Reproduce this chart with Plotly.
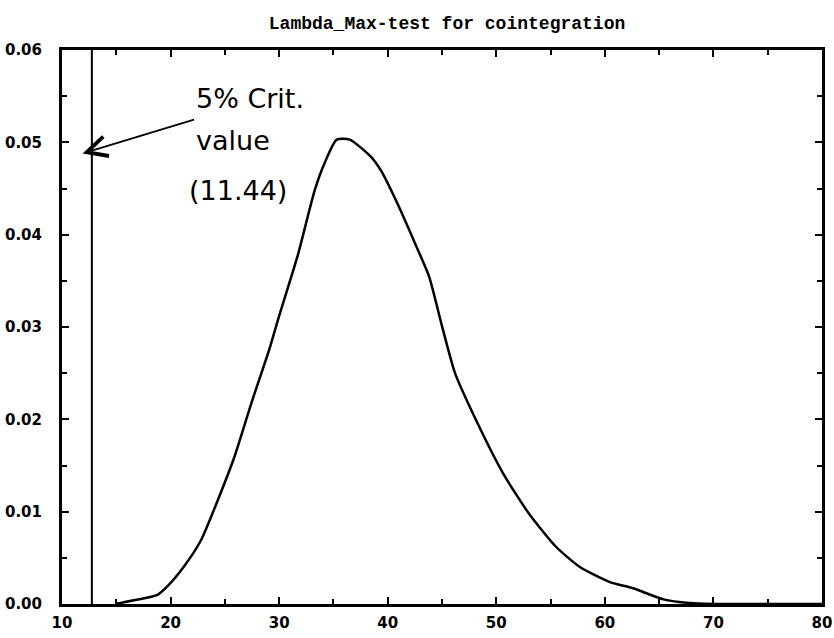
import plotly.graph_objects as go

# density curve
x_vals = [14.9, 16.6, 18.8, 19.7, 21.2, 22.8, 24.3, 25.9, 27.4, 29.1, 30.0, 31.7,
          33.3, 34.2, 35.3, 36.5, 38.4, 39.4, 41.0, 42.5, 43.8, 45.0, 46.2, 48.1,
          50.6, 53.0, 55.5, 57.7, 60.4, 62.6, 65.4, 67.8, 70.0, 75.0, 80.0]
density = [0.0000, 0.0004, 0.0010, 0.0019, 0.0040, 0.0069, 0.0111, 0.0160, 0.0216,
           0.0276, 0.0312, 0.0377, 0.0449, 0.0478, 0.0503, 0.0503, 0.0485, 0.0469,
           0.0431, 0.0391, 0.0355, 0.0301, 0.0250, 0.0200, 0.0142, 0.0098, 0.0062,
           0.0040, 0.0024, 0.0017, 0.0005, 0.0001, 0.0000, 0.0000, 0.0000]

crit_x = 12.75          # where the critical-value line is drawn
note_lines = ["5% Crit.", "value", "(11.44)"]

x_ticks = [10, 20, 30, 40, 50, 60, 70, 80]
y_ticks = [0.00, 0.01, 0.02, 0.03, 0.04, 0.05, 0.06]

fig = go.Figure(go.Scatter(
    x=x_vals, y=density, mode="lines",
    line=dict(color="black", width=2.5, shape="spline", smoothing=0.6),
    showlegend=False
))

fig.add_vline(x=crit_x, line=dict(color="black", width=2))

# hand-written note with arrow pointing at the line
fig.add_annotation(x=11.9, y=0.0488, ax=22.3, ay=0.0525, axref="x", ayref="y",
                   text="", showarrow=True, arrowhead=5, arrowsize=2.2,
                   arrowwidth=1.8, arrowcolor="black")
note_font = dict(family="DejaVu Sans", size=27, color="black")
fig.add_annotation(x=22.2, y=0.0547, text=note_lines[0], showarrow=False,
                   xanchor="left", font=note_font)
fig.add_annotation(x=22.2, y=0.0502, text=note_lines[1], showarrow=False,
                   xanchor="left", font=note_font)
fig.add_annotation(x=21.5, y=0.0448, text=note_lines[2], showarrow=False,
                   xanchor="left", font=note_font)

axis_common = dict(
    showgrid=False, zeroline=False, automargin=False,
    showline=True, linecolor="black", linewidth=3, mirror="ticks",
    ticks="inside", ticklen=7, tickwidth=2, tickcolor="black",
    tickfont=dict(family="DejaVu Sans", size=15, color="black", weight="bold"),
)

fig.update_xaxes(range=[10, 80], tickvals=x_ticks, ticklabelstandoff=3,
                 minor=dict(dtick=5, ticks="inside", ticklen=5, tickwidth=1.5,
                            tickcolor="black"),
                 **axis_common)
fig.update_yaxes(range=[0, 0.06], tickvals=y_ticks, tickformat=".2f",
                 ticklabelstandoff=14,
                 minor=dict(dtick=0.005, ticks="inside", ticklen=5, tickwidth=1.5,
                            tickcolor="black"),
                 **axis_common)

fig.update_layout(
    width=834, height=638,
    margin=dict(l=62, r=12, t=50, b=34),
    plot_bgcolor="white", paper_bgcolor="white",
    title=dict(text="<b>Lambda_Max-test for cointegration</b>", x=0.536, y=0.965,
               xanchor="center", yanchor="middle",
               font=dict(family="Liberation Mono", size=18, color="black")),
)

# drop the page's default body margin so the figure sits at the window corner
fig.write_html("out.html", config={"displayModeBar": False},
               post_script="document.body.style.margin='0';")
